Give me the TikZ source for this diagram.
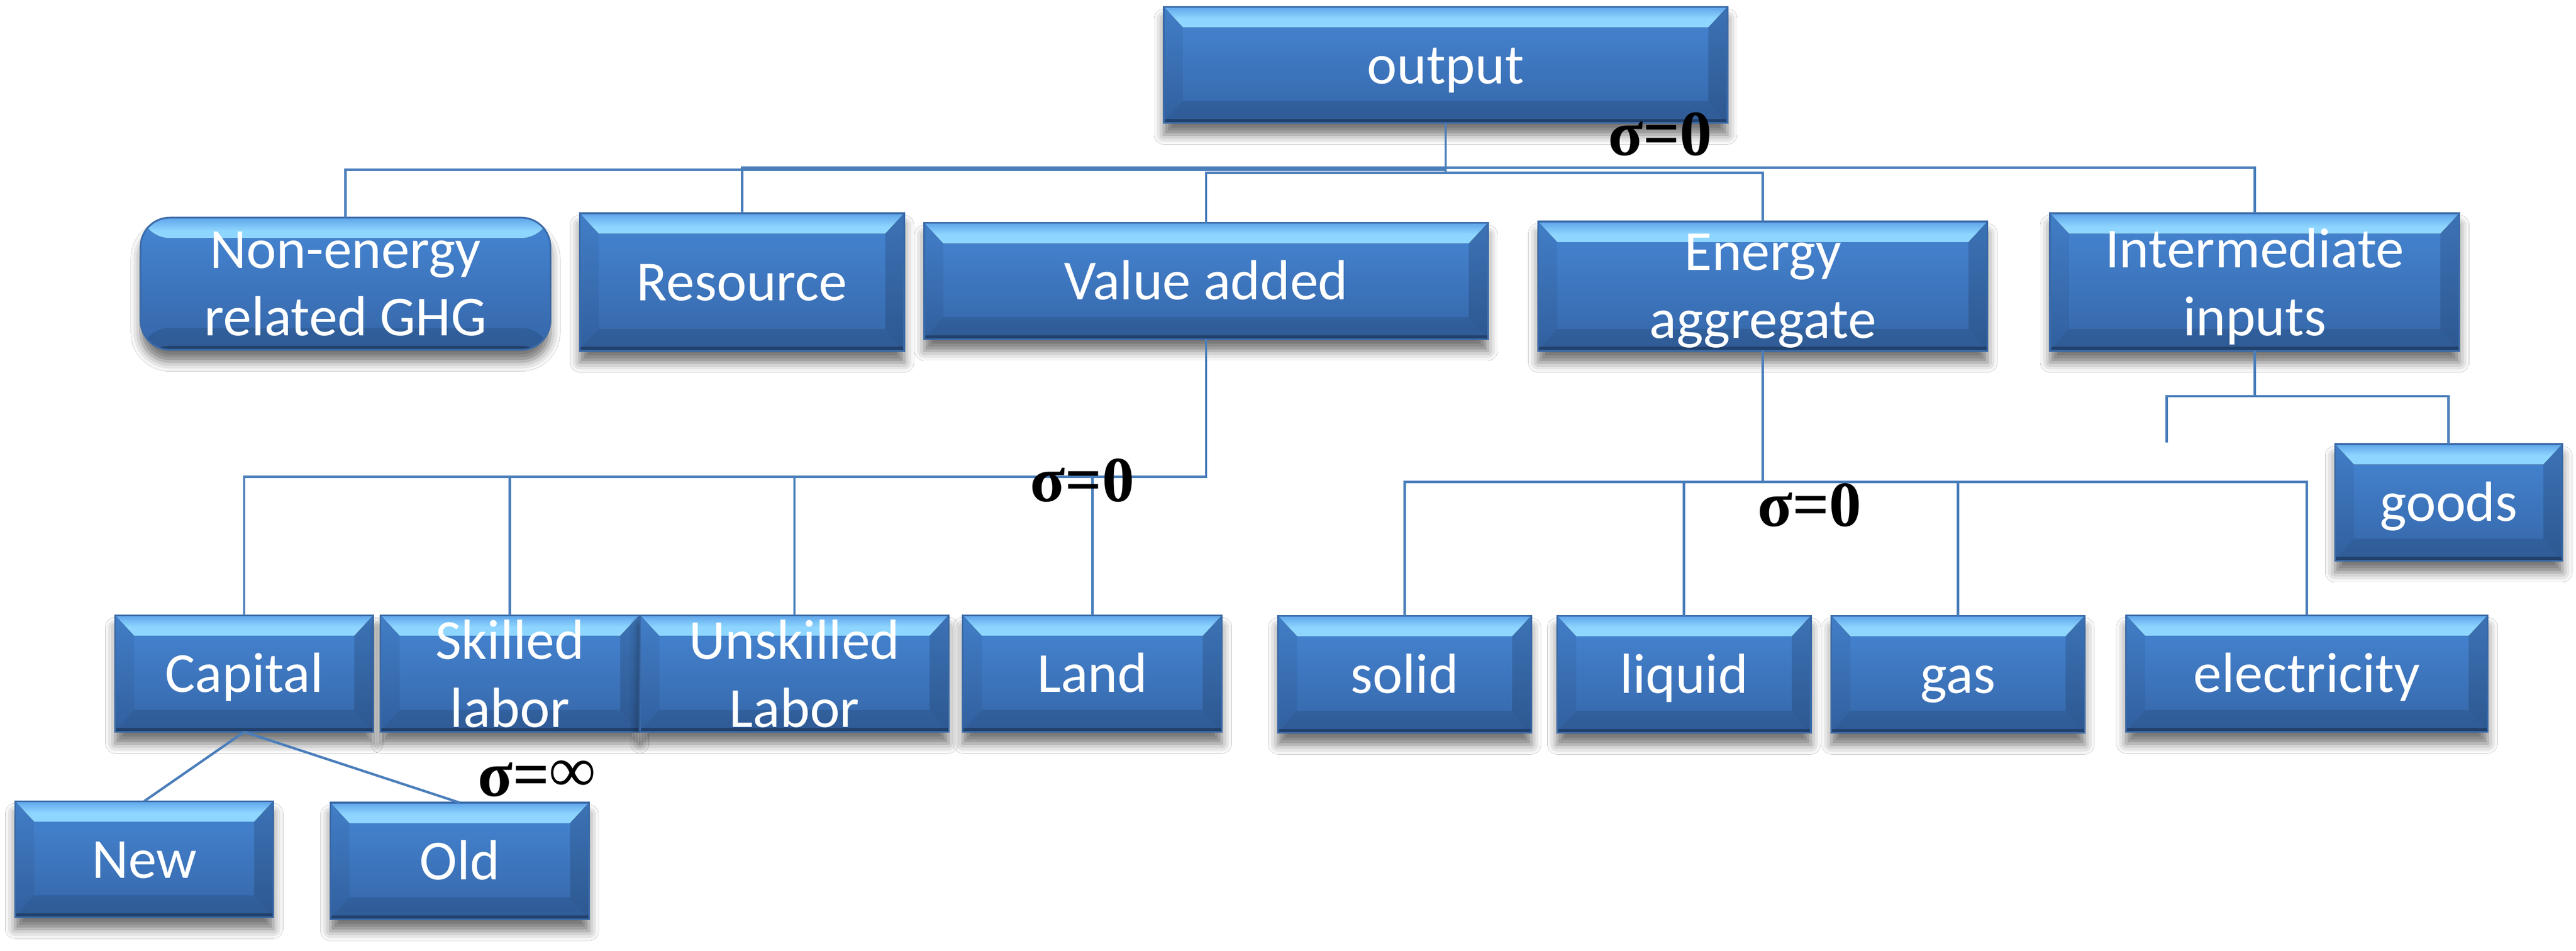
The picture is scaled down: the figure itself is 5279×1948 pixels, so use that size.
\documentclass[tikz,border=0pt]{standalone}
\usepackage{fontspec}
\setmainfont{Carlito}
\newfontfamily\sigmafont{Liberation Serif}
\usetikzlibrary{shadows.blur}
\definecolor{lineblue}{HTML}{4A7EBB}
\definecolor{bodyT}{HTML}{4686D4}
\definecolor{bodyB}{HTML}{3566A8}
\definecolor{bvbody}{HTML}{4787D5}
\definecolor{bvmid}{HTML}{66ACEE}
\definecolor{bvlight}{HTML}{8ED6FF}
\definecolor{bvedge}{HTML}{5EA4EA}
\definecolor{bord}{HTML}{3A6AA8}
\pgfdeclareverticalshading{topbev}{100bp}{color(0bp)=(bvbody); color(25bp)=(bvbody); color(52bp)=(bvmid); color(64bp)=(bvlight); color(70bp)=(bvlight); color(75bp)=(bvedge); color(100bp)=(bvedge)}
\newcommand\boxfont{\fontsize{11.6}{13.9}\selectfont}
\newcommand\bevelpic{%
  \fill[shading=topbev] (path picture bounding box.north west) -- (path picture bounding box.north east)
    -- ([xshift=-3.9pt,yshift=-4.2pt]path picture bounding box.north east)
    -- ([xshift=3.9pt,yshift=-4.2pt]path picture bounding box.north west) -- cycle;
  \fill[black,opacity=0.06] (path picture bounding box.north west) -- (path picture bounding box.south west)
    -- ([xshift=3.9pt,yshift=4.5pt]path picture bounding box.south west)
    -- ([xshift=3.9pt,yshift=-4.2pt]path picture bounding box.north west) -- cycle;
  \fill[black,opacity=0.14] (path picture bounding box.north east) -- (path picture bounding box.south east)
    -- ([xshift=-3.9pt,yshift=4.5pt]path picture bounding box.south east)
    -- ([xshift=-3.9pt,yshift=-4.2pt]path picture bounding box.north east) -- cycle;
  \fill[black,opacity=0.11] (path picture bounding box.south west) -- (path picture bounding box.south east)
    -- ([xshift=-3.9pt,yshift=4.5pt]path picture bounding box.south east)
    -- ([xshift=3.9pt,yshift=4.5pt]path picture bounding box.south west) -- cycle;
  \fill[black,opacity=0.28] (path picture bounding box.south west) rectangle ([yshift=0.8pt]path picture bounding box.south east);
}
\newcommand\roundpic{%
  \fill[shading=topbev] (path picture bounding box.north west) rectangle ([yshift=-4.2pt]path picture bounding box.north east);
  \fill[black,opacity=0.11] (path picture bounding box.south west) rectangle ([yshift=4.5pt]path picture bounding box.south east);
  \fill[black,opacity=0.28] (path picture bounding box.south west) rectangle ([yshift=0.8pt]path picture bounding box.south east);
}
\tikzset{
  conn/.style={draw=lineblue, line width=0.5pt},
  boxbase/.style={draw=bord, line width=0.35pt, top color=bodyT, bottom color=bodyB,
    inner sep=0pt, outer sep=0pt,
    blur shadow={shadow xshift=0pt, shadow yshift=-2.4pt, shadow blur radius=2pt, shadow opacity=55}},
  vbox/.style={boxbase, rectangle, path picture={\bevelpic}},
  rbox/.style={boxbase, rounded corners=6pt, path picture={\roundpic}},
  txt/.style={text=white, font=\boxfont, align=center, inner sep=0pt, text height=7.7pt, text depth=0pt},
  txtt/.style={text=white, font=\boxfont, align=center, inner sep=0pt, text depth=0pt},
  sig/.style={font=\sigmafont\bfseries\fontsize{13.2}{15}\selectfont, inner sep=0pt, anchor=base},
}
\begin{document}
\begin{tikzpicture}[x=0.1pt,y=-0.1pt]
\fill[white] (0,0) rectangle (5279,1948);
\useasboundingbox (0,0) rectangle (5279,1948);

% top level
\node[vbox, minimum width=115.5pt, minimum height=23.8pt, label={[txt]center:output}] (output) at (2962.5,133) {};
\node[rbox, minimum width=84pt, minimum height=27.1pt, label={[txtt]center:{Non-energy\\related GHG}}] (nonen) at (708,581.5) {};
\node[vbox, minimum width=66.5pt, minimum height=28.2pt, label={[txt]center:Resource}] (resource) at (1520.5,578) {};
\node[vbox, minimum width=115.5pt, minimum height=23.8pt, label={[txt]center:Value added}] (valueadded) at (2471.5,576) {};
\node[vbox, minimum width=92.1pt, minimum height=26.5pt, label={[txtt]center:{Energy\\aggregate}}] (energy) at (3612.5,586.5) {};
\node[vbox, minimum width=83.9pt, minimum height=28.2pt, label={[txtt]center:{Intermediate\\inputs}}] (intermediate) at (4620.5,578) {};

% value added children
\node[vbox, minimum width=52.9pt, minimum height=23.9pt, label={[txt]center:Capital}] (capital) at (500.5,1380.5) {};
\node[vbox, minimum width=53.0pt, minimum height=23.9pt, label={[txtt]center:{Skilled\\labor}}] (skilled) at (1045,1380.5) {};
\node[vbox, minimum width=63.2pt, minimum height=23.9pt, label={[txtt]center:{Unskilled\\Labor}}] (unskilled) at (1628,1380.5) {};
\node[vbox, minimum width=53.1pt, minimum height=23.9pt, label={[txt]center:Land}] (land) at (2238.5,1380.5) {};

% energy children
\node[vbox, minimum width=51.9pt, minimum height=24.0pt, label={[txt]center:solid}] (solid) at (2878.5,1382) {};
\node[vbox, minimum width=52.0pt, minimum height=24.0pt, label={[txt]center:liquid}] (liquid) at (3451,1382) {};
\node[vbox, minimum width=51.9pt, minimum height=24.0pt, label={[txt]center:gas}] (gas) at (4012.5,1382) {};
\node[vbox, minimum width=74.1pt, minimum height=23.9pt, label={[txt]center:electricity}] (electricity) at (4727.5,1380.5) {};

% intermediate child
\node[vbox, minimum width=46.6pt, minimum height=23.9pt, label={[txt]center:goods}] (goods) at (5018,1029.5) {};

% capital children
\node[vbox, minimum width=52.9pt, minimum height=23.8pt, label={[txt]center:New}] (new) at (295.5,1761) {};
\node[vbox, minimum width=53.0pt, minimum height=23.9pt, label={[txt]center:Old}] (old) at (942,1764.5) {};

% bus levels
\coordinate (busA) at (0,344);
\coordinate (busB) at (0,348);
\coordinate (busC) at (0,354);
\coordinate (busD) at (0,977);
\coordinate (busE) at (0,988);
\coordinate (busF) at (0,812);
\coordinate (loose) at (4440,907);

% connectors: output
\draw[conn] (output.south) -- (output.south |- busC);
\draw[conn] (nonen.north) |- (output.south |- busB);
\draw[conn] (resource.north) |- (intermediate.north |- busA) -- (intermediate.north);
\draw[conn] (valueadded.north) |- (energy.north |- busC) -- (energy.north);

% connectors: value added
\draw[conn] (valueadded.south) |- (capital.north |- busD) -- (capital.north);
\draw[conn] (skilled.north) -- (skilled.north |- busD);
\draw[conn] (unskilled.north) -- (unskilled.north |- busD);
\draw[conn] (land.north) -- (land.north |- busD);

% connectors: energy
\draw[conn] (energy.south) -- (energy.south |- busE);
\draw[conn] (solid.north) |- (electricity.north |- busE) -- (electricity.north);
\draw[conn] (liquid.north) -- (liquid.north |- busE);
\draw[conn] (gas.north) -- (gas.north |- busE);

% connectors: intermediate
\draw[conn] (intermediate.south) -- (intermediate.south |- busF);
\draw[conn] (loose) |- (goods.north |- busF) -- (goods.north);

% connectors: capital
\draw[conn] (capital.south) -- (new.north);
\draw[conn] (capital.south) -- (old.north);

% elasticities
\node[sig] (s1) at (3402,318) {σ=0};
\node[sig] (s2) at (2218,1028) {σ=0};
\node[sig] (s3) at (3708,1079) {σ=0};
\node[sig] (s4) at (1100,1632) {σ=\raisebox{1pt}{∞}};
\end{tikzpicture}
\end{document}
